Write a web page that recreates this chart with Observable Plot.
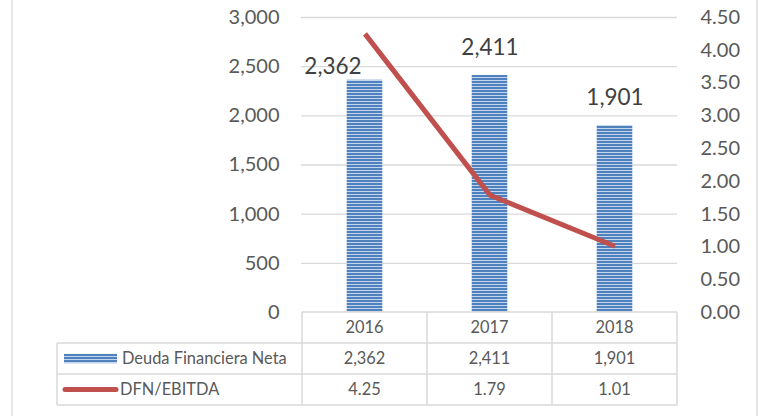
<!DOCTYPE html>
<html><head><meta charset="utf-8">
<script src="https://cdn.jsdelivr.net/npm/d3@7"></script>
<script src="https://cdn.jsdelivr.net/npm/@observablehq/plot@0.6"></script>
<style>
html,body{margin:0;padding:0;background:#fff;}
#chart{position:relative;width:761px;height:416px;overflow:hidden;background:#fff;}
</style></head><body><div id="chart"></div>
<script>
const years = ["2016", "2017", "2018"];
const deuda = [2362, 2411, 1901];
const ratio = [4.25, 1.79, 1.01];
const leftTicks = [0, 500, 1000, 1500, 2000, 2500, 3000];
const rightTicks = [0, 0.5, 1, 1.5, 2, 2.5, 3, 3.5, 4, 4.5];
const seriesNames = ["Deuda Financiera Neta", "DFN/EBITDA"];
const leftMax = 3000, rightMax = 4.5;
const k = leftMax / rightMax;

const fmtInt = d3.format(",");
const fmtDec = d3.format(".2f");
const rows = years.map((y, i) => ({year: y, deuda: deuda[i], ratio: ratio[i], ratioY: ratio[i] * k}));

const textColor = "#595959";
const gridColor = "#d9d9d9";
const lineColor = "#c0504d";

const plot = Plot.plot({
  width: 761, height: 416,
  marginLeft: 301, marginRight: 84, marginTop: 17, marginBottom: 104,
  style: {fontFamily: "Lato", background: "transparent", overflow: "visible"},
  x: {type: "band", domain: years, padding: 0, axis: null},
  y: {domain: [0, leftMax], axis: null},
  marks: [
    Plot.gridY(leftTicks.filter(d => d > 0), {stroke: gridColor, strokeOpacity: 1, strokeWidth: 1.3}),
    Plot.axisY(leftTicks, {anchor: "left", tickSize: 0, tickPadding: 22, tickFormat: fmtInt, fontSize: 20, fill: textColor}),
    Plot.axisY(rightTicks.map(d => d * k), {anchor: "right", tickSize: 0, tickPadding: 23, tickFormat: d => fmtDec(d / k), fontSize: 20, fill: textColor}),
    Plot.barY(rows, {x: "year", y: "deuda", fill: "url(#stripes)", insetLeft: 44.7, insetRight: 44.7}),
    Plot.line(rows, {x: "year", y: "ratioY", stroke: lineColor, strokeWidth: 5, strokeLinejoin: "round", strokeLinecap: "butt"}),
    Plot.text(rows.slice(1), {x: "year", y: "deuda", text: d => fmtInt(d.deuda), dy: -28, fontSize: 22.5, fill: "#404040"}),
    Plot.text(rows.slice(0, 1), {x: "year", y: "deuda", text: d => fmtInt(d.deuda), dx: -32, dy: -13, fontSize: 22.5, fill: "#404040"})
  ]
});

const svg = d3.select(plot);
const defs = svg.insert("defs", ":first-child");
const pat = defs.append("pattern").attr("id", "stripes").attr("patternUnits", "userSpaceOnUse")
  .attr("width", 6).attr("height", 3);
pat.append("rect").attr("width", 6).attr("height", 3).attr("fill", "#4f81bd");
pat.append("rect").attr("y", 2).attr("width", 6).attr("height", 1).attr("fill", "#c3d5ee");

// data table below the plot, positioned with Plot's scales
const xs = plot.scale("x"), ys = plot.scale("y");
const bw = xs.bandwidth;
const x0 = xs.apply(years[0]);
const xEnd = xs.apply(years[years.length - 1]) + bw;
const y0 = ys.apply(0);
const rowH = 31;
const legendLeft = 57;
const g = svg.append("g").attr("font-family", "Lato").attr("font-size", 16.4).attr("fill", textColor);
function line(x1, y1, x2, y2) {
  g.append("line").attr("x1", x1).attr("y1", y1).attr("x2", x2).attr("y2", y2)
    .attr("stroke", gridColor).attr("stroke-width", 1.5).attr("fill", "none");
}
line(x0, y0, xEnd, y0);
for (let r = 1; r <= 3; r++) line(legendLeft, y0 + r * rowH, xEnd, y0 + r * rowH);
line(legendLeft, y0 + rowH, legendLeft, y0 + 3 * rowH);
for (let i = 0; i <= years.length; i++) {
  const x = i < years.length ? xs.apply(years[i]) : xEnd;
  line(x, y0, x, y0 + 3 * rowH);
}
const centerY = r => y0 + (r + 0.5) * rowH;
years.forEach((yr, i) => {
  const cx = xs.apply(yr) + bw / 2;
  g.append("text").attr("x", cx).attr("y", centerY(0)).attr("dy", "0.36em").attr("text-anchor", "middle").text(yr);
  g.append("text").attr("x", cx).attr("y", centerY(1)).attr("dy", "0.36em").attr("text-anchor", "middle").text(fmtInt(deuda[i]));
  g.append("text").attr("x", cx).attr("y", centerY(2)).attr("dy", "0.36em").attr("text-anchor", "middle").text(fmtDec(ratio[i]));
});
// legend keys
g.append("rect").attr("x", 64).attr("y", centerY(1) - 4.7).attr("width", 53).attr("height", 9.4).attr("fill", "url(#stripes)");
g.append("text").attr("x", 122).attr("y", centerY(1)).attr("dy", "0.36em").attr("text-anchor", "start").text(seriesNames[0]);
g.append("line").attr("x1", 65).attr("x2", 116).attr("y1", centerY(2)).attr("y2", centerY(2))
  .attr("stroke", lineColor).attr("stroke-width", 5).attr("stroke-linecap", "round");
g.append("text").attr("x", 120).attr("y", centerY(2)).attr("dy", "0.36em").attr("text-anchor", "start").text(seriesNames[1]);
// chart area frame
svg.append("line").attr("x1", 12).attr("x2", 12).attr("y1", 0).attr("y2", 416).attr("stroke", gridColor).attr("stroke-width", 1.3);
svg.append("line").attr("x1", 757).attr("x2", 757).attr("y1", 0).attr("y2", 416).attr("stroke", gridColor).attr("stroke-width", 1.3);

document.getElementById("chart").appendChild(plot);
</script>
</body></html>
